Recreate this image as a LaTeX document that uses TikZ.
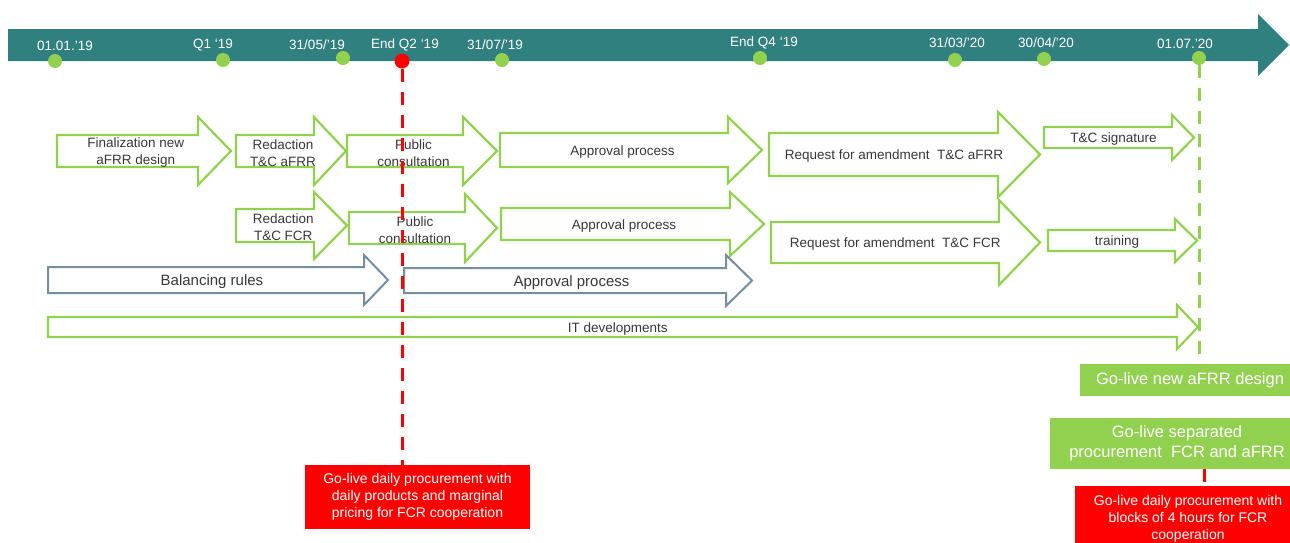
\documentclass[tikz,border=0pt]{standalone}
\usepackage{fontspec}
\setmainfont{Liberation Sans}

\definecolor{bandteal}{RGB}{49,128,128}
\definecolor{leafgreen}{RGB}{146,208,80}
\definecolor{slategrey}{RGB}{118,143,158}
\definecolor{inkgrey}{RGB}{56,56,56}
\definecolor{alertred}{RGB}{255,0,0}

\tikzset{
    greenarrow/.style={draw=leafgreen, line width=2.2pt, fill=white},
    greyarrow/.style={draw=slategrey, line width=2pt, fill=white},
    greenarrow text/.style={text=inkgrey, align=center, yshift=-2pt, font=\fontsize{13.5}{17}\selectfont},
    greyarrow text/.style={text=inkgrey, align=center, yshift=-2pt, font=\fontsize{15}{18}\selectfont},
    datedot/.style={circle, fill=leafgreen, minimum size=14pt, inner sep=0pt},
    datelabel/.style={text=white, inner sep=0pt, font=\fontsize{13.5}{16}\selectfont},
    redbox/.style={fill=alertred, text=white, align=center, inner sep=0pt, font=\fontsize{14}{17}\selectfont},
    greenbox/.style={fill=leafgreen, text=white, align=center, inner sep=0pt, font=\fontsize{16.5}{20}\selectfont},
    reddash/.style={draw=alertred, line width=3pt, dash pattern=on 13pt off 10pt},
    greendash/.style={draw=leafgreen, line width=3pt, dash pattern=on 13pt off 10pt},
}

% style, name, left, head start, tip, top, bottom, head overhang, text
\newcommand{\blockarrow}[9]{
    \filldraw[#1] (#3,#6) -- (#4,#6) -- (#4,#6-#8) -- (#5,{(#6+#7)/2}) -- (#4,#7+#8) -- (#4,#7) -- (#3,#7) -- cycle;
    \node[#1 text] (#2) at ({(2*#3+#4+#5)/4},{(#6+#7)/2}) {#9};
}

\begin{document}
\begin{tikzpicture}[x=1pt, y=-1pt]
    \useasboundingbox (0,0) rectangle (1290,542);
    \clip (0,0) rectangle (1290,542);

    % timeline
    \fill[bandteal] (8,29) -- (1258,29) -- (1258,14) -- (1289,45) -- (1258,76) -- (1258,61) -- (8,61) -- cycle;

    % aFRR row
    \blockarrow{greenarrow}{finalize}{57}{198}{231}{135}{167}{18}{Finalization new\\aFRR design}
    \blockarrow{greenarrow}{redactafrr}{236}{314}{346}{135}{167}{18}{Redaction\\T\&C aFRR}
    \blockarrow{greenarrow}{consultafrr}{347}{463}{497}{135}{167}{18}{Public\\consultation}
    \blockarrow{greenarrow}{approveafrr}{500}{728}{762}{133}{167}{16}{Approval process}
    \blockarrow{greenarrow}{amendafrr}{769}{998}{1040}{133}{176}{21}{Request for amendment\ \ T\&C aFRR}
    \blockarrow{greenarrow}{signature}{1044}{1172}{1194}{127}{148}{12}{T\&C signature}

    % FCR row
    \blockarrow{greenarrow}{redactfcr}{236}{314}{347}{209}{242}{17}{Redaction\\T\&C FCR}
    \blockarrow{greenarrow}{consultfcr}{349}{465}{497}{212}{244}{18}{Public\\consultation}
    \blockarrow{greenarrow}{approvefcr}{501}{730}{764}{208}{240}{16}{Approval process}
    \blockarrow{greenarrow}{amendfcr}{771}{999}{1040}{222}{263}{22}{Request for amendment\ \ T\&C FCR}
    \blockarrow{greenarrow}{training}{1048}{1175}{1197}{230}{251}{11}{training}

    % rules and IT
    \blockarrow{greyarrow}{balancing}{48}{364}{388}{267}{293}{12}{Balancing rules}
    \blockarrow{greyarrow}{approverules}{404}{726}{752}{268}{293}{13}{Approval process}
    \blockarrow{greenarrow}{itdev}{48}{1177}{1198}{317}{337}{12}{IT developments}

    % go-live boxes
    \node[redbox, minimum width=225pt, minimum height=64pt] (golivedaily) at (417.5,497) {Go-live daily procurement with\\daily products and marginal\\pricing for FCR cooperation};
    \node[greenbox, minimum width=220pt, minimum height=32pt] (goliveafrr) at (1190,380) {Go-live new aFRR design};
    \node[greenbox, minimum width=254pt, minimum height=51pt] (goliveseparate) at (1177,443.5) {Go-live separated\\procurement\ \ FCR and aFRR};
    \node[redbox, minimum width=226pt, minimum height=66pt] (golive4h) at (1188,519) {Go-live daily procurement with\\blocks of 4 hours for FCR\\cooperation};

    % milestones
    \node[datedot] (d0101) at (55,61) {};
    \node[datedot] (dq1) at (223,60) {};
    \node[datedot] (d3105) at (343,58) {};
    \node[datedot, fill=alertred, minimum size=15pt] (endq2) at (402,61) {};
    \node[datedot] (d3107) at (502,60) {};
    \node[datedot] (endq4) at (760,58) {};
    \node[datedot] (d3103) at (955,60) {};
    \node[datedot] (d3004) at (1044,59) {};
    \node[datedot] (d0107) at (1199,58) {};

    \node[datelabel] (l0101) at (65,46) {01.01.'19};
    \node[datelabel] (lq1) at (213,45) {Q1 ‘19};
    \node[datelabel] (l3105) at (317,45) {31/05/'19};
    \node[datelabel] (lendq2) at (405,45) {End Q2 ‘19};
    \node[datelabel] (l3107) at (495,45) {31/07/'19};
    \node[datelabel] (lendq4) at (764,43) {End Q4 ‘19};
    \node[datelabel] (l3103) at (957,43) {31/03/'20};
    \node[datelabel] (l3004) at (1046,43) {30/04/'20};
    \node[datelabel] (l0107) at (1185,44) {01.07.'20};

    % go-live lines
    \draw[reddash] (endq2.south) -- (endq2 |- golivedaily.north);
    \draw[greendash] (d0107.south) -- (d0107 |- goliveafrr.north);
    \coordinate (redmark) at ([xshift=5pt]d0107);
    \draw[reddash] (redmark |- goliveseparate.south) -- (redmark |- golive4h.north);
\end{tikzpicture}
\end{document}
